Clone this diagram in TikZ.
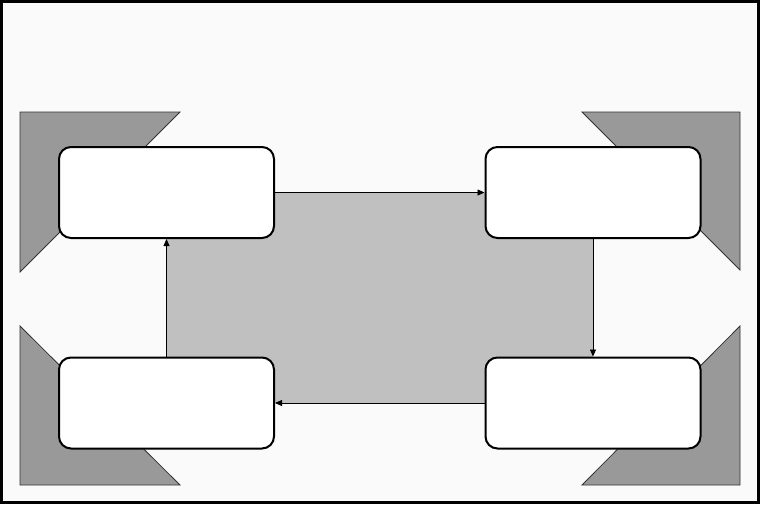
\documentclass[tikz,border=0pt]{standalone}
\usetikzlibrary{arrows.meta}
\definecolor{paper}{HTML}{FAFAFA}
\definecolor{wedge}{HTML}{999999}
\definecolor{core}{HTML}{C0C0C0}
\tikzset{
	stepbox/.style={draw=black, line width=2pt, fill=white, rounded corners=12pt,
		minimum width=215pt, minimum height=91pt, inner sep=0pt},
	wedgefill/.style={fill=wedge, draw=black!80, line width=0.8pt},
	flow/.style={-{Triangle[length=7pt,width=6pt]}, line width=0.8pt},
}

\begin{document}
\begin{tikzpicture}[x=1pt,y=-1pt]
				%%%%% START %%%%%
				\useasboundingbox (0,0) rectangle (760,504);
				\fill[paper] (0,0) rectangle (760,504);
				\draw[line width=3pt] (1.5,1.5) rectangle (758.5,502.5);
				
				% corner wedges
				\draw[wedgefill] (20,112) -- (180,112) -- (20,272) -- cycle;
				\draw[wedgefill] (740,112) -- (582,112) -- (740,270) -- cycle;
				\draw[wedgefill] (20,326) -- (20,485) -- (180,485) -- cycle;
				\draw[wedgefill] (740,326) -- (740,485) -- (582,485) -- cycle;
				
				\coordinate (c1) at (166.5,192.5);
				\coordinate (c2) at (593,192.5);
				\coordinate (c3) at (166.5,403);
				\coordinate (c4) at (593,403);
				\fill[core] (c1) rectangle (c4);
				
				\node[stepbox] (tl) at (c1) {};
				\node[stepbox] (tr) at (c2) {};
				\node[stepbox] (bl) at (c3) {};
				\node[stepbox] (br) at (c4) {};
				
				\draw[flow] (tl) -- (tr);
				\draw[flow] (tr) -- (br);
				\draw[flow] (br) -- (bl);
				\draw[flow] (bl) -- (tl);
				%%%%% END %%%%%
\end{tikzpicture}
\end{document}
